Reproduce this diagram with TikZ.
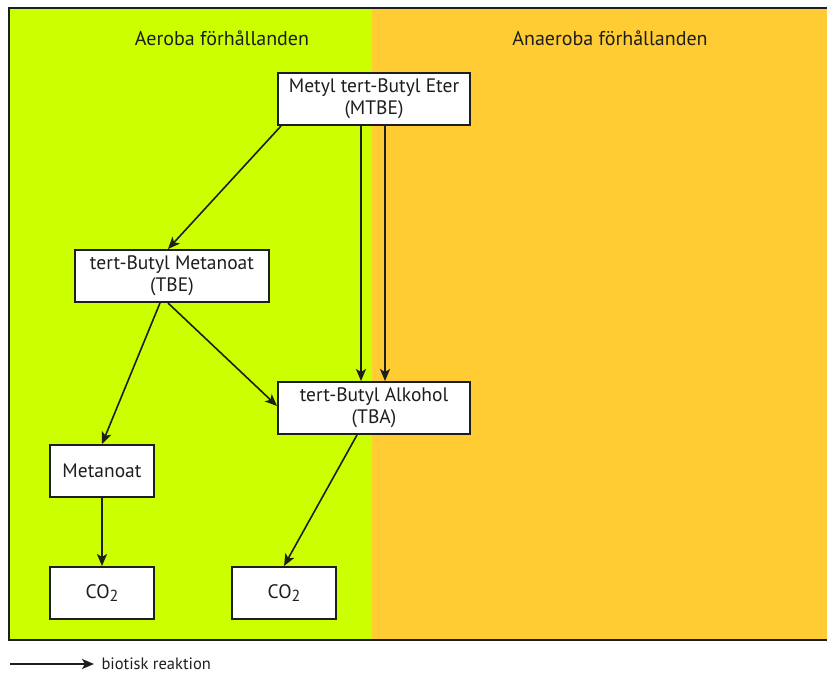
\documentclass[tikz,border=0pt]{standalone}
\usepackage{fontspec}
\setmainfont{PT Sans}
\usetikzlibrary{arrows.meta}
\definecolor{aerob}{RGB}{204,255,0}
\definecolor{anaerob}{RGB}{255,204,51}
\definecolor{ink}{RGB}{30,30,30}
\newcommand{\cotwo}{CO\raisebox{-0.3ex}{\fontsize{16}{16}\selectfont 2}}
\tikzset{
  compound/.style={draw=ink, line width=2pt, fill=white, inner sep=0pt,
    align=center, font=\fontsize{19.5}{22}\selectfont, text=ink},
  reaction/.style={draw=ink, line width=1.6pt, -{Stealth[length=12pt,width=10pt,inset=3pt]}},
  zone/.style={font=\fontsize{20}{22}\selectfont, text=ink}
}
\begin{document}
\begin{tikzpicture}[x=1pt,y=-1pt]
\useasboundingbox (0,0) rectangle (827,684);
\fill[white] (0,0) rectangle (827,684);
% environment zones
\fill[aerob] (9,8) rectangle (372,640);
\fill[anaerob] (372,8) rectangle (827,640);
\draw[ink, line width=2.4pt] (827,8) -- (9,8) -- (9,640) -- (827,640);
\node[zone] (aer) at (222,38) {Aeroba förhållanden};
\node[zone] (ana) at (610,38) {Anaeroba förhållanden};

% compounds
\node[compound, minimum width=192pt, minimum height=52pt] (mtbe) at (374,99) {Metyl tert-Butyl Eter\\(MTBE)};
\node[compound, minimum width=194pt, minimum height=52pt] (tbe) at (172,276) {tert-Butyl Metanoat\\(TBE)};
\node[compound, minimum width=192pt, minimum height=52pt] (tba) at (374,408) {tert-Butyl Alkohol\\(TBA)};
\node[compound, minimum width=104pt, minimum height=52pt] (met) at (102,471) {Metanoat};
\node[compound, minimum width=104pt, minimum height=52pt] (co2a) at (102,593) {\cotwo};
\node[compound, minimum width=104pt, minimum height=52pt] (co2b) at (284,593) {\cotwo};

% degradation pathways
\draw[reaction] ([xshift=4pt]mtbe.south west) -- ([xshift=-4pt]tbe.north);
\draw[reaction] ([xshift=-13pt]mtbe.south) -- ([xshift=-13pt]tba.north);
\draw[reaction] ([xshift=11pt]mtbe.south) -- ([xshift=11pt]tba.north);
\draw[reaction] ([xshift=-12pt]tbe.south) -- (met.north);
\draw[reaction] ([xshift=-4pt]tbe.south) -- ([yshift=2pt]tba.west);
\draw[reaction] (met.south) -- (co2a.north);
\draw[reaction] ([xshift=-17pt]tba.south) -- (co2b.north);

% legend
\coordinate (legA) at (10,664);
\coordinate (legB) at (94,664);
\draw[reaction, line width=1.4pt] (legA) -- (legB);
\node[anchor=west, font=\fontsize{16.5}{18}\selectfont, text=ink] (leg) at (98,664) {biotisk reaktion};
\end{tikzpicture}
\end{document}
